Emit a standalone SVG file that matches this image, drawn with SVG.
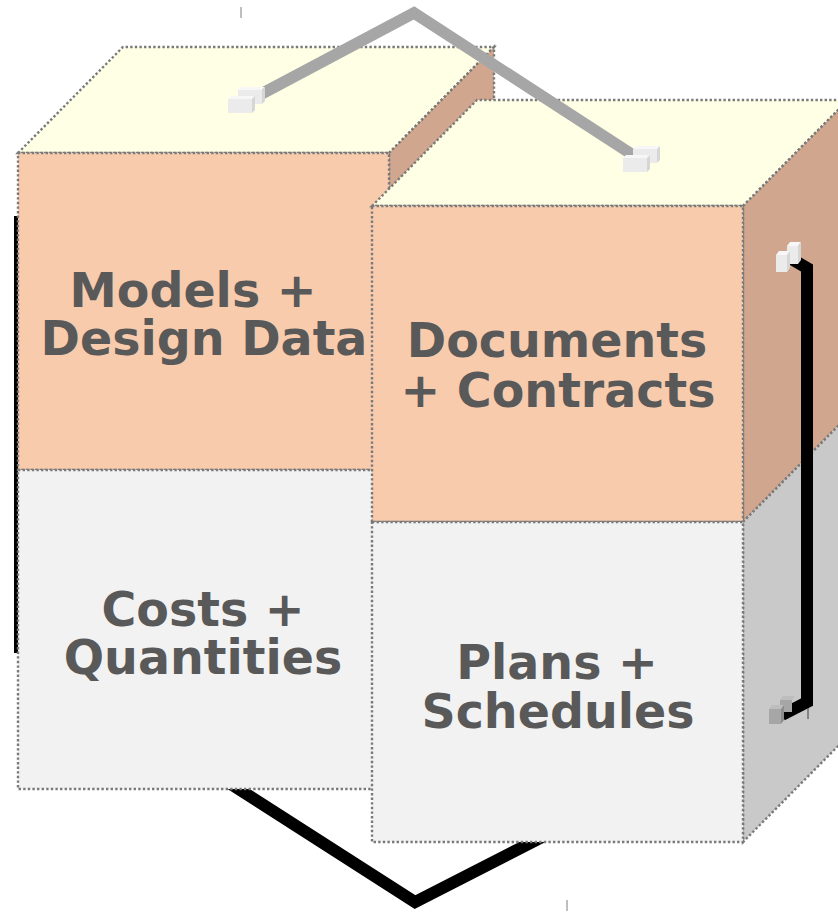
<svg xmlns="http://www.w3.org/2000/svg" width="838" height="912" viewBox="0 0 838 912">
  <style>
    .edge { stroke: #7a7a7a; stroke-width: 2.4; stroke-dasharray: 2.4 2.2; }
    .top { fill: #ffffe6; }
    .front-a { fill: #f8cbad; }
    .side-a { fill: #d0a78e; }
    .front-b { fill: #f2f2f2; }
    .side-b { fill: #c9c9c9; }
    .label { font-family: "DejaVu Sans", "Liberation Sans", sans-serif; font-weight: bold; font-size: 47.5px; fill: #595959; text-anchor: middle; }
    .wire { fill: none; stroke-linejoin: miter; stroke-linecap: butt; }
    .tick { stroke: #7f7f7f; stroke-width: 1; }
  </style>
  <defs>
    <!-- small 3D connector block, horizontal -->
    <g id="plugH">
      <polygon points="10,-9 34,-9 37,-12 13,-12" fill="#f7f7f7"/>
      <polygon points="34,-9 37,-12 37,2 34,5" fill="#d6d6d6"/>
      <rect x="10" y="-9" width="24" height="14" fill="#ebebeb"/>
      <polygon points="0,0 24,0 27,-3 3,-3" fill="#f7f7f7"/>
      <polygon points="24,0 27,-3 27,11 24,14" fill="#d6d6d6"/>
      <rect x="0" y="0" width="24" height="14" fill="#ebebeb"/>
    </g>
  </defs>

  <!-- connectors running behind the blocks -->
  <g id="connectors-back">
    <line x1="16" y1="216" x2="16" y2="653" stroke="#000" stroke-width="4"/>
    <path class="wire" d="M 226 781 L 415 902 L 560 828" stroke="#000" stroke-width="12"/>
  </g>

  <!-- rear block: Models + Design Data / Costs + Quantities -->
  <g id="block-models">
    <polygon class="top edge" points="18,153 123,47 494,47 389,153"/>
    <polygon class="side-a edge" points="389,153 494,47 494,364 389,470"/>
    <polygon class="side-b edge" points="389,470 494,364 494,683 389,789"/>
    <rect class="front-a edge" x="18" y="153" width="371" height="317"/>
    <text class="label" x="193" y="307">Models +</text>
    <text class="label" x="204" y="355">Design Data</text>
  </g>
  <g id="block-costs">
    <rect class="front-b edge" x="18" y="470" width="371" height="319"/>
    <text class="label" x="203" y="626">Costs +</text>
    <text class="label" x="203" y="674">Quantities</text>
  </g>

  <!-- front block: Documents + Contracts / Plans + Schedules -->
  <g id="block-documents">
    <polygon class="top edge" points="372,206 477,100 848,100 743,206"/>
    <polygon class="side-a edge" points="743,206 848,100 848,416 743,522"/>
    <rect class="front-a edge" x="372" y="206" width="371" height="316"/>
    <text class="label" x="557" y="357">Documents</text>
    <text class="label" x="558" y="407">+ Contracts</text>
  </g>
  <g id="block-plans">
    <polygon class="side-b edge" points="743,522 848,416 848,736 743,842"/>
    <rect class="front-b edge" x="372" y="522" width="371" height="320"/>
    <text class="label" x="557" y="679">Plans +</text>
    <text class="label" x="558" y="728">Schedules</text>
  </g>

  <!-- connectors drawn over the blocks -->
  <g id="connectors-front">
    <path class="wire" d="M 250 100 L 414 13 L 636 157" stroke="#a6a6a6" stroke-width="11.5"/>
    <use href="#plugH" x="228" y="99"/>
    <use href="#plugH" x="623" y="158"/>

    <path class="wire" d="M 790 258 L 807 268 L 807 702 L 782 715" stroke="#000" stroke-width="12"/>
    <!-- upright block pair at the top end -->
    <polygon points="787,246 798,246 801,242 790,242" fill="#f7f7f7"/>
    <polygon points="798,246 801,242 801,260 798,264" fill="#d6d6d6"/>
    <rect x="787" y="246" width="11" height="18" fill="#ebebeb"/>
    <polygon points="776,255 787,255 790,251 779,251" fill="#f7f7f7"/>
    <polygon points="787,255 790,251 790,268 787,272" fill="#d6d6d6"/>
    <rect x="776" y="255" width="11" height="17" fill="#ebebeb"/>
    <!-- grey block pair at the bottom end -->
    <polygon points="780,700 792,700 795,696 783,696" fill="#bdbdbd"/>
    <rect x="780" y="700" width="12" height="12" fill="#a6a6a6"/>
    <polygon points="769,709 781,709 784,705 772,705" fill="#bdbdbd"/>
    <polygon points="781,709 784,705 784,720 781,724" fill="#8c8c8c"/>
    <rect x="769" y="709" width="12" height="15" fill="#a6a6a6"/>
  </g>

  <g id="ticks">
    <line class="tick" x1="241" y1="7" x2="241" y2="18"/>
    <line class="tick" x1="567" y1="900" x2="567" y2="911"/>
    <line x1="808" y1="708" x2="808" y2="719" stroke="#404040" stroke-width="1"/>
  </g>
</svg>
